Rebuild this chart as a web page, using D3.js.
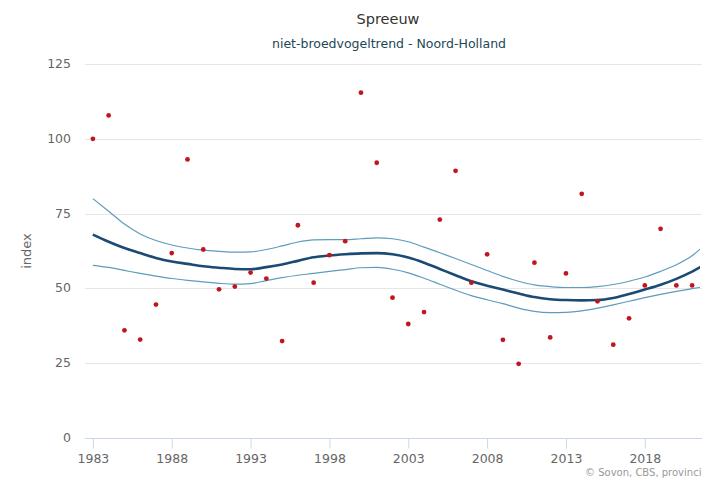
<!DOCTYPE html>
<html>
<head>
<meta charset="utf-8">
<script src="https://cdn.jsdelivr.net/npm/d3@7"></script>
<style>
  body { margin: 0; background: #fff; }
  svg { display: block; font-family: "DejaVu Sans", sans-serif; }
</style>
</head>
<body>
<div id="chart"></div>
<script>
// yearly index values (red dots)
const years = d3.range(1983, 2022);
const indexValues = [100, 107.8, 36, 32.9, 44.6, 61.8, 93.1, 63, 49.7, 50.6,
    55.3, 53.3, 32.4, 71.1, 51.9, 61.1, 65.8, 115.4, 92, 46.9,
    38.1, 42.1, 73, 89.3, 51.9, 61.4, 32.8, 24.8, 58.6, 33.6,
    55, 81.6, 45.7, 31.2, 40, 51, 69.9, 51, 51];

// smoothed trend with its upper / lower bound
const trendYears = d3.range(1983, 2023);
const trend = [68, 65.6, 63.5, 61.8, 60.2, 59, 58.2, 57.4, 56.9, 56.5,
    56.4, 57.1, 58, 59.2, 60.4, 61, 61.4, 61.7, 61.8, 61.4,
    60.3, 58.6, 56.5, 54.4, 52.4, 50.9, 49.6, 48.3, 47.1, 46.4,
    46.1, 46, 46.1, 46.8, 48.1, 49.6, 51.2, 53.2, 55.6, 58.6];
const upper = [80, 75.8, 71.5, 68.2, 66, 64.5, 63.5, 62.8, 62.4, 62.1,
    62.2, 63, 64.2, 65.5, 66.2, 66.3, 66.3, 66.6, 66.9, 66.6,
    65.6, 63.8, 61.9, 60, 58, 56, 54, 52.4, 51.2, 50.6,
    50.3, 50.3, 50.6, 51.3, 52.4, 53.8, 55.7, 57.9, 60.9, 65.5];
const lower = [57.7, 57, 56, 55, 54.1, 53.3, 52.7, 52.2, 51.7, 51.4,
    51.6, 52.6, 53.6, 54.4, 55, 55.7, 56.3, 56.9, 57, 56.4,
    55.2, 53.4, 51.4, 49.4, 47.6, 46.2, 44.9, 43.4, 42.3, 41.9,
    42, 42.5, 43.4, 44.5, 45.7, 46.9, 48, 49, 49.9, 50.8];

const yTicks = [0, 25, 50, 75, 100, 125];
const xTicks = [1983, 1988, 1993, 1998, 2003, 2008, 2013, 2018];

const width = 702, height = 480;
const margin = {top: 64, right: 2, bottom: 42, left: 85};

const svg = d3.select("#chart").append("svg")
    .attr("width", width)
    .attr("height", height);

const x = d3.scaleLinear()
    .domain([1982.5, 2021.5])
    .range([margin.left, width - margin.right]);

const y = d3.scaleLinear()
    .domain([0, 125])
    .range([height - margin.bottom, margin.top]);

// titles
svg.append("text")
    .attr("x", 388).attr("y", 24)
    .attr("text-anchor", "middle")
    .style("font-size", "14.5px")
    .style("fill", "#333")
    .text("Spreeuw");

svg.append("text")
    .attr("x", 389).attr("y", 48)
    .attr("text-anchor", "middle")
    .style("font-size", "12.5px")
    .style("fill", "#1d4756")
    .text("niet-broedvogeltrend - Noord-Holland");

// grid
svg.append("g")
    .selectAll("line")
    .data(yTicks.filter(d => d > 0))
    .join("line")
    .attr("x1", margin.left).attr("x2", width)
    .attr("y1", d => Math.round(y(d)) + 0.5)
    .attr("y2", d => Math.round(y(d)) + 0.5)
    .attr("stroke", "#e6e6e6");

// y axis labels
svg.append("g")
    .selectAll("text")
    .data(yTicks)
    .join("text")
    .attr("x", 71)
    .attr("y", d => y(d) + 4)
    .attr("text-anchor", "end")
    .style("font-size", "12.5px")
    .style("fill", "#666")
    .text(d => d);

svg.append("text")
    .attr("transform", "translate(31," + y(62.5) + ") rotate(-90)")
    .attr("text-anchor", "middle")
    .style("font-size", "13px")
    .style("fill", "#666")
    .text("index");

// x axis
const xAxis = svg.append("g")
    .attr("transform", "translate(0," + (Math.round(y(0)) + 0.5) + ")")
    .call(d3.axisBottom(x).tickValues(xTicks).tickFormat(d3.format("d")).tickSize(10).tickPadding(6));
xAxis.select(".domain").attr("stroke", "#ccd6eb").attr("d", "M" + margin.left + ",0H" + width);
xAxis.selectAll(".tick line").attr("stroke", "#ccd6eb");
xAxis.selectAll(".tick text")
    .style("font-size", "12.5px")
    .style("fill", "#666")
    .style("font-family", "DejaVu Sans, sans-serif");

// clip for the curves
svg.append("clipPath").attr("id", "plot")
    .append("rect")
    .attr("x", margin.left).attr("y", margin.top)
    .attr("width", width - margin.left - margin.right)
    .attr("height", height - margin.top - margin.bottom);

const line = d3.line()
    .x((d, i) => x(trendYears[i]))
    .y(d => y(d))
    .curve(d3.curveMonotoneX);

const curves = svg.append("g").attr("clip-path", "url(#plot)");

curves.append("path")
    .attr("d", line(upper))
    .attr("fill", "none")
    .attr("stroke", "#5d9cbc")
    .attr("stroke-width", 1.2);

curves.append("path")
    .attr("d", line(lower))
    .attr("fill", "none")
    .attr("stroke", "#5d9cbc")
    .attr("stroke-width", 1.2);

curves.append("path")
    .attr("d", line(trend))
    .attr("fill", "none")
    .attr("stroke", "#1b4a74")
    .attr("stroke-width", 2.6);

// index points
svg.append("g")
    .selectAll("circle")
    .data(indexValues)
    .join("circle")
    .attr("cx", (d, i) => x(years[i]))
    .attr("cy", d => y(d))
    .attr("r", 2.4)
    .attr("fill", "#c0161e");

// credits (cut off at the right edge, as in the original)
svg.append("text")
    .attr("x", 585).attr("y", 476)
    .style("font-size", "10px")
    .style("fill", "#999")
    .text("© Sovon, CBS, provincies");
</script>
</body>
</html>
